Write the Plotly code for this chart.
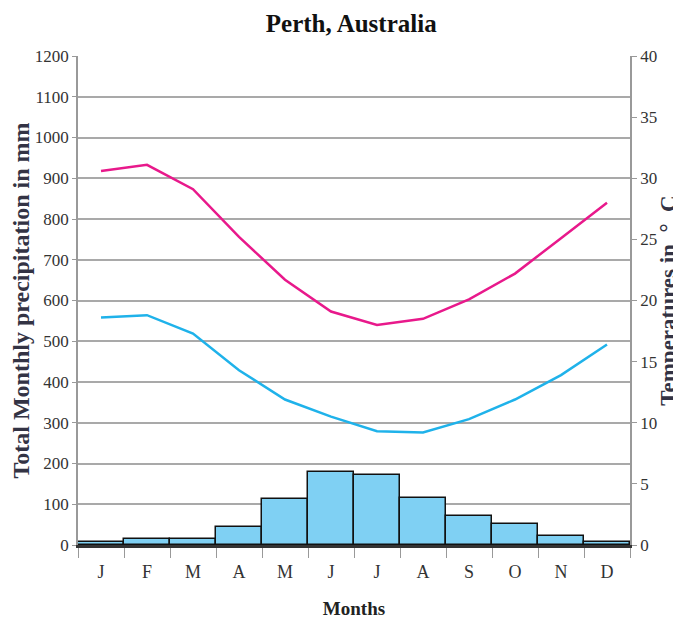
import plotly.graph_objects as go

months = ["J", "F", "M", "A", "M ", "J ", "J  ", "A ", "S", "O", "N", "D"]
month_labels = ["J", "F", "M", "A", "M", "J", "J", "A", "S", "O", "N", "D"]
precip_mm = [8, 15, 14, 44, 114, 179, 173, 115, 72, 51, 22, 8]
temp_max = [30.6, 31.1, 29.1, 25.2, 21.7, 19.1, 18.0, 18.5, 20.1, 22.2, 25.1, 28.0]
temp_min = [18.6, 18.8, 17.3, 14.3, 11.9, 10.5, 9.3, 9.2, 10.3, 11.9, 13.9, 16.4]

serif = "Liberation Serif, Times New Roman, serif"

fig = go.Figure()
fig.add_trace(go.Bar(
    x=months, y=precip_mm, marker=dict(color="#7fd0f3", line=dict(color="#111111", width=1.5)),
    yaxis="y", showlegend=False))
fig.add_trace(go.Scatter(
    x=months, y=temp_max, mode="lines", line=dict(color="#e8198b", width=2.5),
    yaxis="y2", showlegend=False))
fig.add_trace(go.Scatter(
    x=months, y=temp_min, mode="lines", line=dict(color="#1fb2ea", width=2.5),
    yaxis="y2", showlegend=False))

fig.update_layout(
    width=673, height=614,
    margin=dict(l=70, r=51, t=48, b=77, autoexpand=False),
    paper_bgcolor="white", plot_bgcolor="white",
    bargap=0,
    font=dict(family=serif, color="#333333", size=16),
    title=dict(text="<b>Perth, Australia</b>", x=0.51, xanchor="center", y=0.975, yanchor="middle",
               font=dict(family=serif, size=25, color="#111111")),
    xaxis=dict(
        type="category", tickmode="array", tickvals=months, ticktext=month_labels,
        tickson="boundaries", ticks="outside", ticklen=10, tickcolor="#999999",
        ticklabelstandoff=8,
        showline=True, linecolor="#333333", linewidth=3,
        showgrid=False, automargin=False,
        title=dict(text="<b>Months</b>", font=dict(family=serif, size=19, color="#222222"), standoff=22),
        tickfont=dict(family=serif, size=18, color="#333333"),
    ),
    yaxis=dict(
        range=[0, 1200], dtick=100, tick0=0, automargin=False,
        showgrid=True, gridcolor="#a9a9a9", gridwidth=2,
        showline=True, linecolor="#999999", linewidth=1.5,
        ticks="outside", ticklen=4, tickcolor="#999999",
        zeroline=False,
        tickfont=dict(family=serif, size=17, color="#333333"),
        title=dict(text="<b>Total Monthly precipitation in mm</b>",
                   font=dict(family=serif, size=24, color="#333344"), standoff=8),
    ),
    yaxis2=dict(
        range=[0, 40], dtick=5, tick0=0, overlaying="y", side="right", automargin=False,
        showgrid=False, showline=True, linecolor="#999999", linewidth=1.5,
        ticks="outside", ticklen=5, tickcolor="#999999", zeroline=False,
        tickfont=dict(family=serif, size=17, color="#333333"),
        title=dict(text="<b>Temperatures in  °  C</b>",
                   font=dict(family=serif, size=23, color="#333344"), standoff=2),
    ),
)

fig.write_html("out.html")
